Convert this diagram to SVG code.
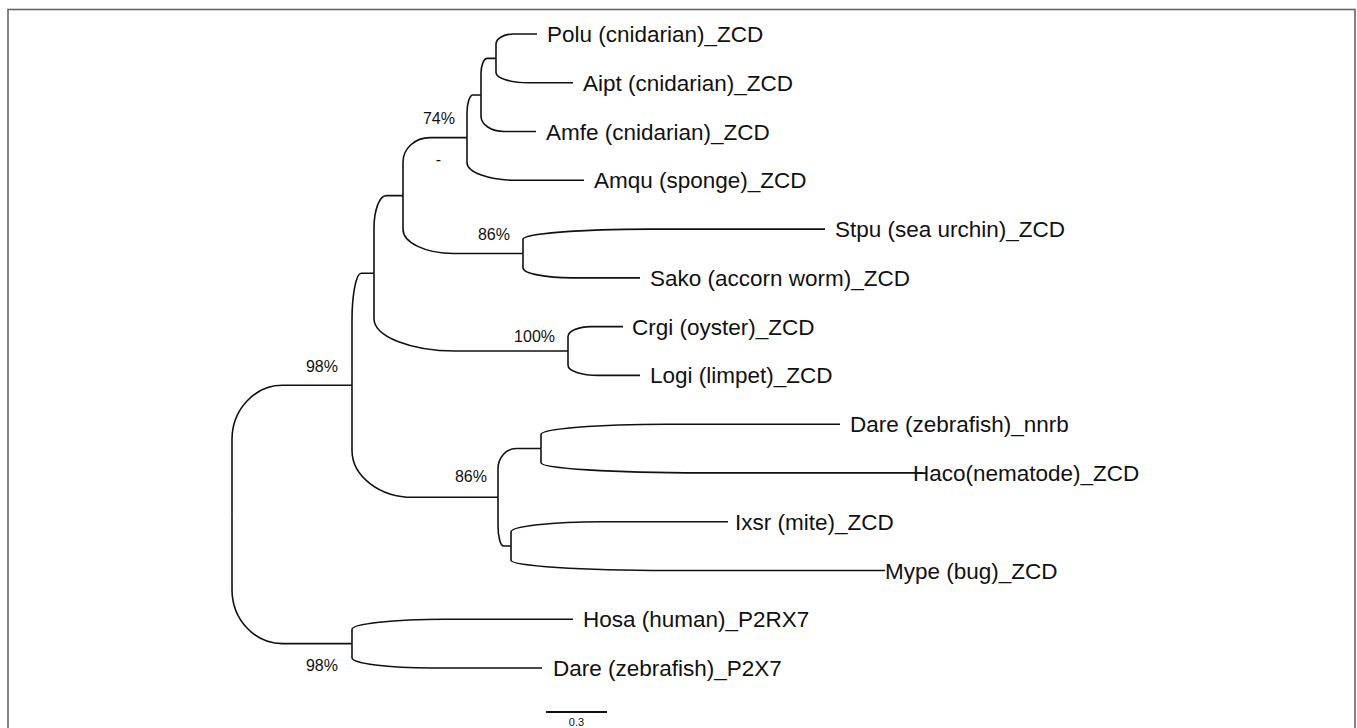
<svg xmlns="http://www.w3.org/2000/svg" width="1357" height="728" viewBox="0 0 1357 728">
<style>
.edge{fill:none;stroke:#111;stroke-width:1.6;stroke-linecap:butt}
.tip{font-family:"Liberation Sans",Arial,Helvetica,sans-serif;font-size:22.5px;fill:#111}
.sup{font-family:"Liberation Sans",Arial,Helvetica,sans-serif;font-size:16px;fill:#111}
.scale{font-family:"Liberation Sans",Arial,Helvetica,sans-serif;font-size:11px;fill:#111}
</style>
<rect x="0" y="0" width="1357" height="728" fill="#fff"/>
<rect x="8" y="9.5" width="1347" height="740" fill="none" stroke="#666" stroke-width="1.6"/>
<g id="connectors">
<path class="edge" d="M232 514.5 V439.6 C232 409.6 254.6 385.3 282.4 385.3 H352"/>
<path class="edge" d="M232 514.5 V589.4 C232 619.3 254.6 643.6 282.4 643.6 H352"/>
<path class="edge" d="M352 385.3 V320.3 C352 294.4 356.1 273.3 361.2 273.3 H374"/>
<path class="edge" d="M352 385.3 V450.3 C352 476.2 379.5 497.3 413.3 497.3 H498"/>
<path class="edge" d="M374 273.3 V228.2 C374 210.2 379.5 195.6 386.2 195.6 H403"/>
<path class="edge" d="M374 273.3 V318.4 C374 336.4 410.5 351 455.5 351 H568"/>
<path class="edge" d="M403 195.6 V162 C403 148.5 415.1 137.6 429.9 137.6 H467"/>
<path class="edge" d="M403 195.6 V229.2 C403 242.6 425.6 253.5 453.4 253.5 H523"/>
<path class="edge" d="M467 137.6 V112.9 C467 103 469.7 95 472.9 95 H481"/>
<path class="edge" d="M467 137.6 V162.4 C467 172.3 489 180.3 516.1 180.3 H584"/>
<path class="edge" d="M481 95 V73.8 C481 65.3 483.8 58.4 487.3 58.4 H496"/>
<path class="edge" d="M481 95 V116.2 C481 124.6 491.3 131.5 504.1 131.5 H536"/>
<path class="edge" d="M496 58.4 V44.2 C496 38.6 503.7 34 513.2 34 H537"/>
<path class="edge" d="M496 58.4 V72.6 C496 78.2 510.5 82.8 528.3 82.8 H573"/>
<path class="edge" d="M523 253.5 V239.3 C523 233.7 579.8 229.1 649.8 229.1 H825"/>
<path class="edge" d="M523 253.5 V267.7 C523 273.3 545 277.9 572.1 277.9 H640"/>
<path class="edge" d="M568 351 V336.8 C568 331.2 578.3 326.6 591.1 326.6 H623"/>
<path class="edge" d="M568 351 V365.2 C568 370.8 581.5 375.4 598.2 375.4 H640"/>
<path class="edge" d="M498 497.3 V469 C498 457.7 506.1 448.5 516.1 448.5 H541"/>
<path class="edge" d="M498 497.3 V525.5 C498 536.8 500.5 546 503.5 546 H511"/>
<path class="edge" d="M541 448.5 V434.4 C541 428.8 597.3 424.2 666.6 424.2 H840"/>
<path class="edge" d="M541 448.5 V462.7 C541 468.3 612.9 472.9 701.4 472.9 H923"/>
<path class="edge" d="M511 546 V531.9 C511 526.3 551.8 521.7 602.1 521.7 H728"/>
<path class="edge" d="M511 546 V560.3 C511 565.9 581.4 570.5 668.1 570.5 H885"/>
<path class="edge" d="M352 643.6 V629.4 C352 623.8 393.6 619.2 444.8 619.2 H573"/>
<path class="edge" d="M352 643.6 V657.8 C352 663.4 387.8 668 431.8 668 H542"/>
</g>
<g id="tip-polu"><text class="tip" x="547" y="42">Polu (cnidarian)_ZCD</text></g>
<g id="tip-aipt"><text class="tip" x="583" y="90.8">Aipt (cnidarian)_ZCD</text></g>
<g id="tip-amfe"><text class="tip" x="546" y="139.5">Amfe (cnidarian)_ZCD</text></g>
<g id="tip-amqu"><text class="tip" x="594" y="188.3">Amqu (sponge)_ZCD</text></g>
<g id="tip-stpu"><text class="tip" x="835" y="237.1">Stpu (sea urchin)_ZCD</text></g>
<g id="tip-sako"><text class="tip" x="650" y="285.9">Sako (accorn worm)_ZCD</text></g>
<g id="tip-crgi"><text class="tip" x="632" y="334.6">Crgi (oyster)_ZCD</text></g>
<g id="tip-logi"><text class="tip" x="650" y="383.4">Logi (limpet)_ZCD</text></g>
<g id="tip-dare-nnrb"><text class="tip" x="850" y="432.2">Dare (zebrafish)_nnrb</text></g>
<g id="tip-haco"><text class="tip" x="913" y="480.9">Haco(nematode)_ZCD</text></g>
<g id="tip-ixsr"><text class="tip" x="735" y="529.7">Ixsr (mite)_ZCD</text></g>
<g id="tip-mype"><text class="tip" x="885" y="578.5">Mype (bug)_ZCD</text></g>
<g id="tip-hosa"><text class="tip" x="583" y="627.2">Hosa (human)_P2RX7</text></g>
<g id="tip-dare-p2x7"><text class="tip" x="553" y="676">Dare (zebrafish)_P2X7</text></g>
<g id="node-cnidarian-sponge"><text class="sup" x="455" y="124" text-anchor="end">74%</text><text class="sup" x="438.5" y="165" text-anchor="middle">-</text></g>
<g id="node-stpu-sako"><text class="sup" x="510" y="240" text-anchor="end">86%</text></g>
<g id="node-crgi-logi"><text class="sup" x="555" y="342" text-anchor="end">100%</text></g>
<g id="node-zcd"><text class="sup" x="338" y="372" text-anchor="end">98%</text></g>
<g id="node-dare-mype"><text class="sup" x="487" y="482" text-anchor="end">86%</text></g>
<g id="node-p2x7"><text class="sup" x="338" y="671" text-anchor="end">98%</text></g>
<g id="scale-bar">
<line x1="546" y1="712" x2="607" y2="712" stroke="#111" stroke-width="1.8"/>
<text class="scale" x="576.5" y="726" text-anchor="middle">0.3</text>
</g>
</svg>
